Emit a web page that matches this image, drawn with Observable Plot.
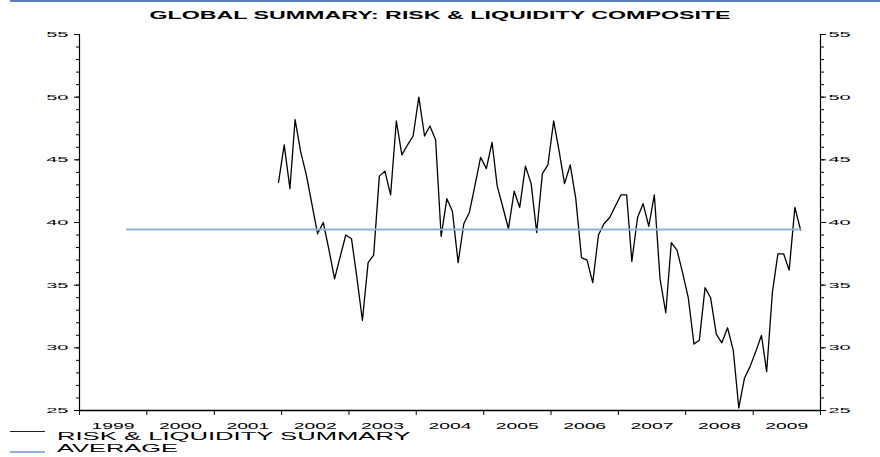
<!DOCTYPE html>
<html><head><meta charset="utf-8">
<script src="https://cdn.jsdelivr.net/npm/d3@7"></script>
<script src="https://cdn.jsdelivr.net/npm/@observablehq/plot@0.6"></script>
<style>
body{margin:0;background:#fff;}
#wrap{position:relative;width:880px;height:457px;overflow:hidden;font-family:"Liberation Sans",Arial,sans-serif;color:#000;}
.t{position:absolute;white-space:nowrap;line-height:1;}
#chart{position:absolute;left:0;top:0;}
</style></head><body>
<div id="wrap">
<div style="position:absolute;left:10px;top:0;width:870px;height:2px;background:#5b80b8"></div>
<div class="t" style="left:440px;top:10.2px;font-size:11.5px;font-weight:bold;transform:translateX(-50%) scaleX(2.02);">GLOBAL SUMMARY: RISK &amp; LIQUIDITY COMPOSITE</div>
<div id="chart"></div>
<div style="position:absolute;left:10px;top:430.5px;width:35px;height:1px;background:#222"></div>
<div style="position:absolute;left:10px;top:450.5px;width:35px;height:2px;background:#8fb1dd"></div>
<div class="t" style="left:57px;top:430.2px;font-size:11.6px;transform-origin:0 0;transform:scaleX(2.21);">RISK &amp; LIQUIDITY SUMMARY</div>
<div class="t" style="left:57px;top:441.8px;font-size:11.6px;transform-origin:0 0;transform:scaleX(2.19);">AVERAGE</div>
</div>
<script>
// Monthly series, Dec 2001 .. Sep 2009
const startYear = 2001, startMonth = 11; // December 2001 (0-based month)
const riskValues = [
  43.2, 46.2, 42.7, 48.2, 45.6, 43.8, 41.4, 39.1, 40.0, 37.8, 35.5, 37.3,
  39.0, 38.7, 35.4, 32.2, 36.8, 37.4, 43.7, 44.1, 42.2, 48.1, 45.4, 46.2,
  46.9, 50.0, 46.9, 47.7, 46.6, 38.9, 41.9, 40.9, 36.8, 39.9, 40.8, 43.0,
  45.2, 44.3, 46.4, 42.9, 41.2, 39.5, 42.5, 41.2, 44.5, 43.1, 39.2, 43.9,
  44.6, 48.1, 45.6, 43.1, 44.6, 41.9, 37.2, 37.0, 35.2, 39.0, 39.9, 40.4,
  41.3, 42.2, 42.2, 36.9, 40.4, 41.5, 39.7, 42.2, 35.5, 32.8, 38.4, 37.8,
  36.0, 34.0, 30.3, 30.6, 34.8, 34.0, 31.1, 30.4, 31.6, 29.8, 25.2, 27.6,
  28.5, 29.7, 31.0, 28.1, 34.4, 37.5, 37.5, 36.2, 41.2, 39.4
];
const averageValue = 39.45;
const averageSpan = [[1999, 8], [2009, 8]]; // Sep 1999 .. Sep 2009
const years = [1999, 2000, 2001, 2002, 2003, 2004, 2005, 2006, 2007, 2008, 2009];
const yMajor = [25, 30, 35, 40, 45, 50, 55];
const yMinor = d3.range(25, 56, 1);

const mdate = (y, m) => new Date(Date.UTC(y, m, 15));
const series = riskValues.map((v, i) => ({date: mdate(startYear, startMonth + i), value: v}));
const avgData = averageSpan.map(([y, m]) => ({date: mdate(y, m), value: averageValue}));
const x0 = new Date(Date.UTC(years[0], 0, 1));
const x1 = new Date(Date.UTC(years[years.length - 1] + 1, 0, 1));
const boundaries = years.map(y => new Date(Date.UTC(y, 0, 1))).concat([x1]);
const mids = years.map(y => new Date(Date.UTC(y, 6, 2)));

const svg = Plot.plot({
  width: 880, height: 440,
  marginTop: 34, marginBottom: 30, marginLeft: 79, marginRight: 60,
  style: {fontFamily: "Liberation Sans, Arial, sans-serif", background: "transparent", color: "#000"},
  x: {type: "utc", domain: [x0, x1], label: null},
  y: {domain: [25, 55], label: null},
  marks: [
    Plot.axisY(yMinor, {anchor: "left", tickSize: 3, tickFormat: () => "", stroke: "#000"}),
    Plot.axisY(yMajor, {anchor: "left", tickSize: 5, tickPadding: 6, fontSize: 8, tickFormat: d => String(d), stroke: "#000", fill: "#000"}),
    Plot.axisY(yMinor, {anchor: "right", tickSize: 3, tickFormat: () => "", stroke: "#000"}),
    Plot.axisY(yMajor, {anchor: "right", tickSize: 5, tickPadding: 3, fontSize: 8, tickFormat: d => String(d), stroke: "#000", fill: "#000"}),
    Plot.axisX(boundaries, {anchor: "bottom", tickSize: 5, tickFormat: () => "", stroke: "#000"}),
    Plot.axisX(mids, {anchor: "bottom", tickSize: 0, tickPadding: 11.5, fontSize: 9.3, tickFormat: d => String(d.getUTCFullYear()), fill: "#000"}),
    Plot.ruleX([x0, x1], {y1: 25, y2: 55, stroke: "#000", strokeWidth: 1.2}),
    Plot.ruleY([25], {stroke: "#000", strokeWidth: 1.3}),
    Plot.line(series, {x: "date", y: "value", stroke: "#000", strokeWidth: 1.3}),
    Plot.line(avgData, {x: "date", y: "value", stroke: "#8fb1dd", strokeWidth: 2})
  ]
});

// horizontally stretch tick labels like the reference
d3.select(svg).selectAll("text").each(function() {
  const el = d3.select(this);
  const txt = this.textContent;
  if (!txt) return;
  const k = txt.length >= 4 ? 2.08 : 2.5;
  const tr = el.attr("transform");
  if (tr) {
    el.attr("transform", tr + ` scale(${k},1)`);
  } else {
    const x = +el.attr("x") || 0, y = +el.attr("y") || 0;
    el.attr("x", null).attr("y", null).attr("transform", `translate(${x},${y}) scale(${k},1)`);
  }
});
document.getElementById("chart").appendChild(svg);
</script>
</body></html>
